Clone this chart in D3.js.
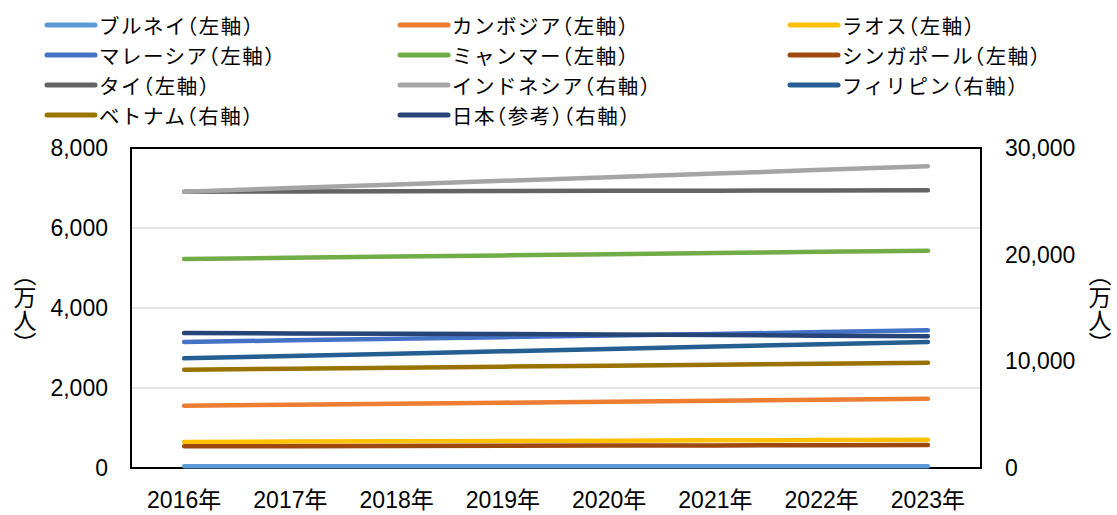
<!DOCTYPE HTML>
<html>
  <head>
    <meta charset="utf-8">
    <style>
      body { margin: 0; background: #fff; }
      text { font-family: "Noto Sans CJK JP", "Liberation Sans", sans-serif; fill: #000; }
    </style>
    <script type="text/javascript" src="https://cdnjs.cloudflare.com/ajax/libs/d3/7.8.5/d3.min.js"></script>
  </head>
  <body>
    <div id="graph-holder"></div>
    <script type="text/javascript">
      // data (万人)
      const years = ["2016年", "2017年", "2018年", "2019年", "2020年", "2021年", "2022年", "2023年"];
      const brunei      = [42, 43, 43, 44, 44, 44, 45, 45];
      const cambodia    = [1558, 1582, 1607, 1633, 1657, 1684, 1708, 1733];
      const laos        = [652, 660, 668, 676, 684, 692, 700, 708];
      const malaysia    = [3150, 3192, 3232, 3270, 3310, 3352, 3397, 3442];
      const myanmar     = [5225, 5255, 5285, 5315, 5345, 5375, 5404, 5433];
      const singapore   = [542, 546, 551, 556, 560, 565, 570, 575];
      const thailand    = [6908, 6914, 6920, 6925, 6930, 6934, 6938, 6942];
      const indonesia   = [25900, 26240, 26580, 26920, 27260, 27600, 27950, 28300];
      const philippines = [10281, 10500, 10720, 10940, 11160, 11380, 11600, 11812];
      const vietnam     = [9216, 9310, 9405, 9500, 9590, 9685, 9780, 9872];
      const japan       = [12656, 12620, 12590, 12560, 12520, 12480, 12410, 12344];
      const leftTicks  = [0, 2000, 4000, 6000, 8000];
      const rightTicks = [0, 10000, 20000, 30000];

      const series = [
        {name: "ブルネイ（左軸）",     values: brunei,      axis: "L", color: "#5B9BD5"},
        {name: "カンボジア（左軸）",   values: cambodia,    axis: "L", color: "#ED7D31"},
        {name: "ラオス（左軸）",       values: laos,        axis: "L", color: "#FFC000"},
        {name: "マレーシア（左軸）",   values: malaysia,    axis: "L", color: "#4472C4"},
        {name: "ミャンマー（左軸）",   values: myanmar,     axis: "L", color: "#70AD47"},
        {name: "シンガポール（左軸）", values: singapore,   axis: "L", color: "#9E480E"},
        {name: "タイ（左軸）",         values: thailand,    axis: "L", color: "#636363"},
        {name: "インドネシア（右軸）", values: indonesia,   axis: "R", color: "#A5A5A5"},
        {name: "フィリピン（右軸）",   values: philippines, axis: "R", color: "#255E91"},
        {name: "ベトナム（右軸）",     values: vietnam,     axis: "R", color: "#997300"},
        {name: "日本（参考）（右軸）", values: japan,       axis: "R", color: "#264478"}
      ];

      const width = 1117, height = 515;
      const plot = {left: 131, right: 981, top: 148, bottom: 468};

      const svg = d3.select("#graph-holder").append("svg")
        .attr("width", width).attr("height", height);

      const x = d3.scaleBand().domain(years).range([plot.left, plot.right]);
      const yL = d3.scaleLinear().domain([0, 8000]).range([plot.bottom, plot.top]);
      const yR = d3.scaleLinear().domain([0, 30000]).range([plot.bottom, plot.top]);
      const fmt = d3.format(",");

      // gridlines
      svg.append("g").selectAll("line")
        .data(leftTicks.slice(1, -1))
        .join("line")
        .attr("x1", plot.left).attr("x2", plot.right)
        .attr("y1", d => yL(d)).attr("y2", d => yL(d))
        .attr("stroke", "#D9D9D9").attr("stroke-width", 1.5);

      // axes
      const axL = svg.append("g")
        .attr("transform", `translate(${plot.left},0)`)
        .call(d3.axisLeft(yL).tickValues(leftTicks).tickFormat(fmt).tickSize(0).tickPadding(23));
      const axR = svg.append("g")
        .attr("transform", `translate(${plot.right},0)`)
        .call(d3.axisRight(yR).tickValues(rightTicks).tickFormat(fmt).tickSize(0).tickPadding(24));
      const axX = svg.append("g")
        .attr("transform", `translate(0,${plot.bottom})`)
        .call(d3.axisBottom(x).tickSize(0).tickPadding(24));
      [axL, axR, axX].forEach(a => {
        a.select(".domain").remove();
        a.selectAll("text")
          .style("font-size", "23px")
          .style("font-family", "'Liberation Sans', 'Noto Sans CJK JP', sans-serif");
      });

      // plot border
      svg.append("rect")
        .attr("x", plot.left).attr("y", plot.top)
        .attr("width", plot.right - plot.left).attr("height", plot.bottom - plot.top)
        .attr("fill", "none").attr("stroke", "#000").attr("stroke-width", 2);

      // lines
      series.forEach(s => {
        const y = s.axis === "L" ? yL : yR;
        const line = d3.line()
          .x((d, i) => x(years[i]) + x.bandwidth() / 2)
          .y(d => y(d));
        svg.append("path")
          .datum(s.values)
          .attr("d", line)
          .attr("fill", "none")
          .attr("stroke", s.color)
          .attr("stroke-width", 4.5)
          .attr("stroke-linecap", "round")
          .attr("stroke-linejoin", "round");
      });

      // axis titles (vertical)
      [25, 1100].forEach(tx => {
        svg.append("text")
          .attr("x", tx).attr("y", 309)
          .attr("text-anchor", "middle")
          .style("writing-mode", "vertical-rl")
          .style("font-feature-settings", "'vhal'")
          .style("font-size", "23px")
          .text("（万人）");
      });

      // legend
      const colX = [45, 398, 788];
      const legend = svg.append("g");
      series.forEach((s, i) => {
        const col = i % 3, row = Math.floor(i / 3);
        const lx = colX[col], ly = 25 + row * 30;
        legend.append("line")
          .attr("x1", lx + 2).attr("x2", lx + 50)
          .attr("y1", ly).attr("y2", ly)
          .attr("stroke", s.color).attr("stroke-width", 5)
          .attr("stroke-linecap", "round");
        legend.append("text")
          .attr("x", lx + 54).attr("y", ly)
          .attr("dominant-baseline", "central")
          .style("font-feature-settings", "'halt'")
          .style("font-size", "20.5px")
          .style("letter-spacing", "1.5px")
          .text(s.name);
      });
    </script>
  </body>
</html>
